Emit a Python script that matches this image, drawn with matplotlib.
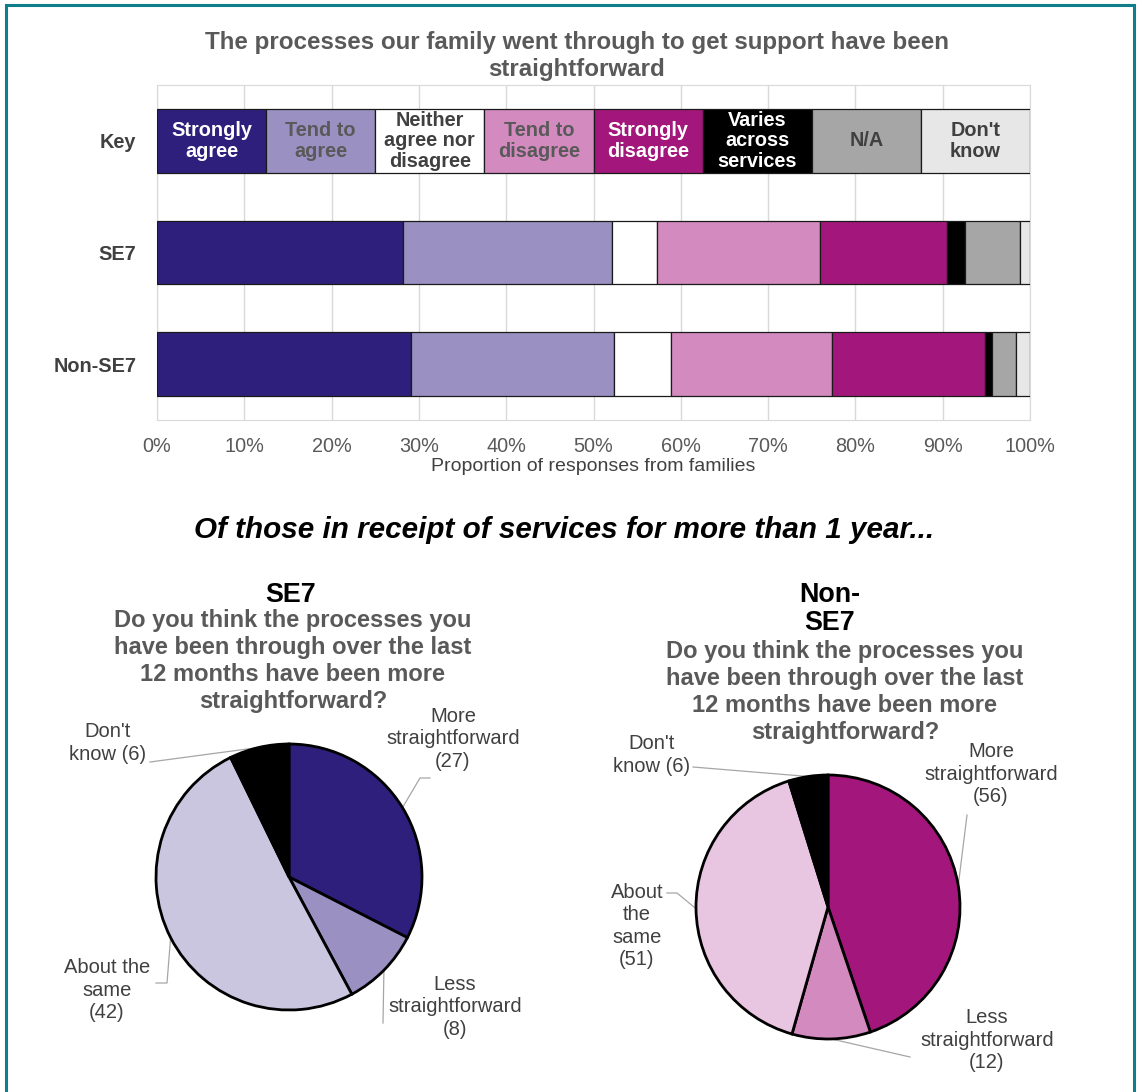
import matplotlib

matplotlib.use("Agg")

import matplotlib.pyplot as plt
import numpy as np
from matplotlib.patches import Rectangle

plt.rcParams["font.family"] = ["Liberation Sans", "DejaVu Sans"]

W, H = 1138, 1092

# stacked bar data (percent of responses)
rows = ["Key", "SE7", "Non-SE7"]
categories = ["Strongly\nagree", "Tend to\nagree", "Neither\nagree nor\ndisagree",
              "Tend to\ndisagree", "Strongly\ndisagree", "Varies\nacross\nservices",
              "N/A", "Don't\nknow"]
key_values = [12.5, 12.5, 12.5, 12.5, 12.5, 12.5, 12.5, 12.5]
se7_values = [28.2, 23.9, 5.2, 18.7, 14.5, 2.1, 6.2, 1.2]
non_se7_values = [29.1, 23.3, 6.5, 18.4, 17.6, 0.8, 2.7, 1.6]
x_ticks = [0, 10, 20, 30, 40, 50, 60, 70, 80, 90, 100]

cat_colors = ["#2F1F7D", "#9A91C2", "#FFFFFF", "#D38ABE", "#A3177C",
              "#000000", "#A6A6A6", "#E7E7E7"]
key_text_colors = ["white", "#595959", "#404040", "#595959", "white",
                   "white", "#404040", "#404040"]

# pie data
se7_pie = [27, 8, 42, 6]
non_se7_pie = [56, 12, 51, 6]
se7_pie_colors = ["#2F1F7D", "#9A91C2", "#CAC6E0", "#000000"]
non_se7_pie_colors = ["#A3177C", "#D38ABE", "#E8C5E0", "#000000"]

question = ("Do you think the processes you\nhave been through over the last\n"
            "12 months have been more\nstraightforward?")


def px(x, y):
    return x / W, 1 - y / H


fig = plt.figure(figsize=(W / 100, H / 100), dpi=100)

# teal frame round the whole graphic
fig.patches.append(Rectangle(px(6, 1120), (1134 - 6) / W, (1120 - 5) / H,
                             transform=fig.transFigure, fill=False,
                             edgecolor="#0E7F8A", linewidth=2.2))

# ---- stacked bar chart ----
ax = fig.add_axes([157 / W, 1 - 420 / H, 873 / W, 335 / H])
y_pos = np.arange(len(rows))
all_values = np.array([key_values, se7_values, non_se7_values])
lefts = np.zeros(len(rows))
for i, color in enumerate(cat_colors):
    ax.barh(y_pos, all_values[:, i], left=lefts, height=0.57, color=color,
            edgecolor="#1a1a1a", linewidth=0.9, zorder=3)
    ax.text(lefts[0] + all_values[0, i] / 2, 0, categories[i], ha="center",
            va="center", fontsize=14.3, fontweight="bold",
            color=key_text_colors[i], linespacing=1.12, zorder=4)
    lefts += all_values[:, i]

ax.set_xlim(0, 100)
ax.set_ylim(2.5, -0.5)
ax.set_xticks(x_ticks)
ax.set_xticklabels([f"{t}%" for t in x_ticks], fontsize=14.3, color="#595959")
ax.set_yticks(y_pos)
ax.set_yticklabels(rows, fontsize=14.3, fontweight="bold", color="#404040")
ax.tick_params(axis="x", length=0, pad=12)
ax.tick_params(axis="y", length=0, pad=15)
ax.xaxis.grid(True, color="#D9D9D9", linewidth=1.0, zorder=0)
for s in ax.spines.values():
    s.set_color("#D9D9D9")
ax.set_xlabel("Proportion of responses from families", fontsize=14,
              color="#404040", labelpad=2)
fig.text(*px(577, 56), "The processes our family went through to get support have been\n"
         "straightforward", ha="center", va="center", fontsize=17.4,
         fontweight="bold", color="#595959", linespacing=1.17)

fig.text(*px(564, 530), "Of those in receipt of services for more than 1 year...",
         ha="center", va="center", fontsize=21.3, fontweight="bold",
         style="italic", color="black")


# ---- pies ----
def draw_pie(cx, cy, r, values, colors, label_specs):
    pax = fig.add_axes([(cx - r) / W, 1 - (cy + r) / H, 2 * r / W, 2 * r / H])
    wedges, _ = pax.pie(values, colors=colors, startangle=90, counterclock=False,
                        wedgeprops=dict(edgecolor="black", linewidth=2.0))
    pax.set_xlim(-1, 1)
    pax.set_ylim(-1, 1)
    for wedge, (text, tx, ty, elbow) in zip(wedges, label_specs):
        mid = np.deg2rad((wedge.theta1 + wedge.theta2) / 2)
        pts = [((x - cx) / r, (cy - y) / r) for x, y in elbow]
        pts.append((np.cos(mid), np.sin(mid)))
        xs, ys = zip(*pts)
        pax.plot(xs, ys, color="#A6A6A6", linewidth=0.9, clip_on=False, zorder=0)
        fig.text(*px(tx, ty), text, ha="center", va="center", fontsize=14.5,
                 color="#404040", linespacing=1.24)
    return pax


se7_specs = [
    (f"More\nstraightforward\n({se7_pie[0]})", 453, 739, [(430, 778), (420, 778)]),
    (f"Less\nstraightforward\n({se7_pie[1]})", 455, 1007, [(383, 1023)]),
    (f"About the\nsame\n({se7_pie[2]})", 107, 990, [(156, 983), (167, 983)]),
    (f"Don't\nknow ({se7_pie[3]})", 108, 743, [(150, 762)]),
]
non_se7_specs = [
    (f"More\nstraightforward\n({non_se7_pie[0]})", 991, 774, [(967, 815)]),
    (f"Less\nstraightforward\n({non_se7_pie[1]})", 987, 1040, [(910, 1057)]),
    (f"About\nthe\nsame\n({non_se7_pie[2]})", 637, 926, [(667, 893), (677, 893)]),
    (f"Don't\nknow ({non_se7_pie[3]})", 652, 755, [(693, 767)]),
]

draw_pie(289, 877, 133, se7_pie, se7_pie_colors, se7_specs)
draw_pie(828, 907, 132, non_se7_pie, non_se7_pie_colors, non_se7_specs)

fig.text(*px(291, 595), "SE7", ha="center", va="center", fontsize=19.4,
         fontweight="bold", color="black")
fig.text(*px(293, 661), question, ha="center", va="center", fontsize=17,
         fontweight="bold", color="#595959", linespacing=1.22)
fig.text(*px(830, 609), "Non-\nSE7", ha="center", va="center", fontsize=19.4,
         fontweight="bold", color="black", linespacing=1.12)
fig.text(*px(845, 692), question, ha="center", va="center", fontsize=17,
         fontweight="bold", color="#595959", linespacing=1.22)

fig.savefig("out.png", dpi=100)
